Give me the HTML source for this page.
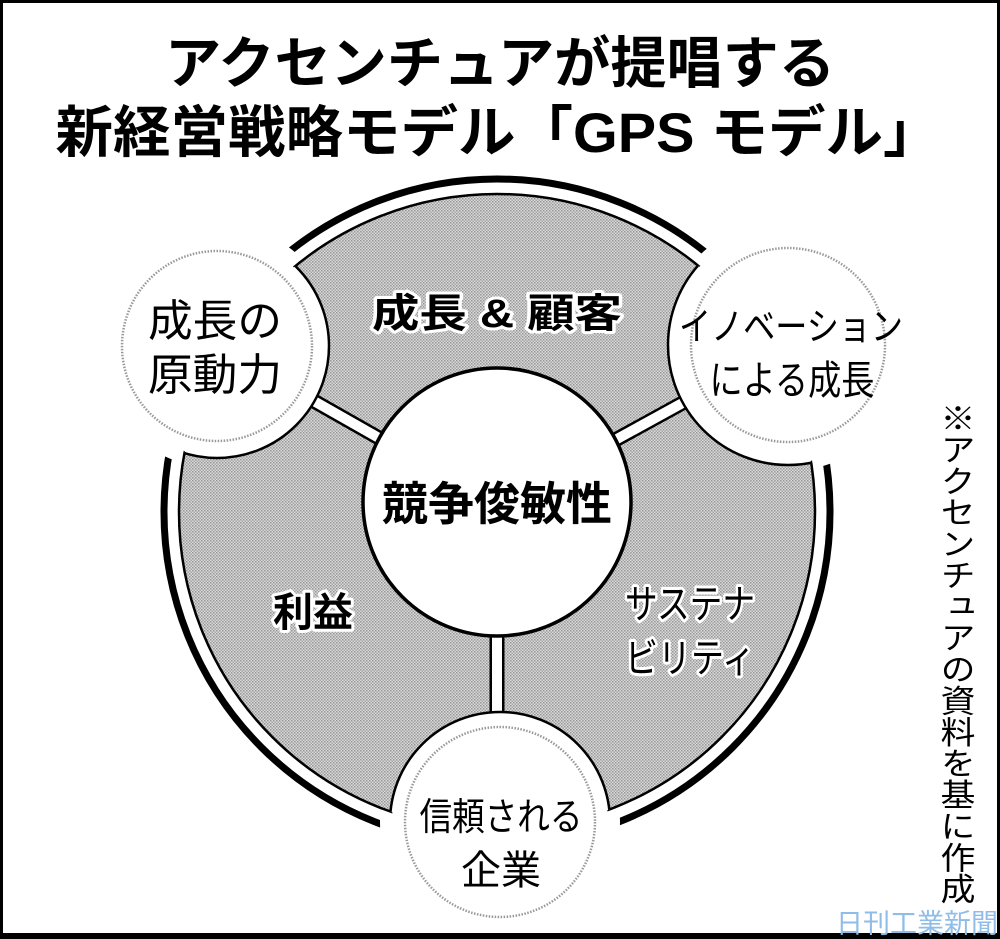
<!DOCTYPE html>
<html><head><meta charset="utf-8"><style>
html,body{margin:0;padding:0;background:#fff}
svg{display:block}
text{font-family:"Liberation Sans","Noto Sans CJK JP",sans-serif}
</style></head><body>
<svg width="1000" height="939" viewBox="0 0 1000 939" xmlns="http://www.w3.org/2000/svg">
<defs>
<pattern id="dots" width="3" height="3" patternUnits="userSpaceOnUse">
<rect width="3" height="3" fill="#dadada"/><rect width="1.5" height="1.5" fill="#959595"/><rect x="1.5" y="1.5" width="1.5" height="1.5" fill="#a5a5a5"/>
</pattern>
<clipPath id="disk"><circle cx="497" cy="512" r="318"/></clipPath>
</defs>
<rect x="0" y="0" width="1000" height="939" fill="#fff"/>
<text x="500" y="83" font-size="56" font-weight="bold" text-anchor="middle" textLength="670" lengthAdjust="spacingAndGlyphs">アクセンチュアが提唱する</text>
<text x="498" y="152" font-size="56" font-weight="bold" text-anchor="middle" textLength="885" lengthAdjust="spacingAndGlyphs">新経営戦略モデル「GPS モデル」</text>

<circle cx="497" cy="512" r="333" fill="none" stroke="#000" stroke-width="7"/>
<circle cx="217" cy="346" r="122" fill="#fff"/>
<circle cx="788" cy="345" r="126" fill="#fff"/>
<circle cx="500" cy="822" r="120" fill="#fff"/>
<circle cx="497" cy="512" r="318" fill="url(#dots)" stroke="#000" stroke-width="2.5"/>
<g clip-path="url(#disk)">
<line x1="497" y1="505" x2="217" y2="346" stroke="#000" stroke-width="15"/>
<line x1="497" y1="505" x2="788" y2="345" stroke="#000" stroke-width="15"/>
<line x1="497" y1="505" x2="497" y2="822" stroke="#000" stroke-width="15"/>
<line x1="497" y1="505" x2="217" y2="346" stroke="#fff" stroke-width="10"/>
<line x1="497" y1="505" x2="788" y2="345" stroke="#fff" stroke-width="10"/>
<line x1="497" y1="505" x2="497" y2="822" stroke="#fff" stroke-width="10"/>
<circle cx="217" cy="346" r="112" fill="#fff" stroke="#000" stroke-width="2.5"/>
<circle cx="788" cy="345" r="120" fill="#fff" stroke="#000" stroke-width="2.5"/>
<circle cx="500" cy="822" r="110" fill="#fff" stroke="#000" stroke-width="2.5"/>
</g>
<circle cx="217" cy="346" r="110" fill="#fff"/>
<circle cx="788" cy="345" r="118" fill="#fff"/>
<circle cx="500" cy="822" r="108" fill="#fff"/>
<circle cx="217" cy="346" r="95" fill="none" stroke="#999" stroke-width="2.5" stroke-dasharray="1.5 1.5"/>
<circle cx="788" cy="345" r="97" fill="none" stroke="#999" stroke-width="2.5" stroke-dasharray="1.5 1.5"/>
<circle cx="500" cy="822" r="95" fill="none" stroke="#999" stroke-width="2.5" stroke-dasharray="1.5 1.5"/>
<circle cx="497" cy="502" r="134" fill="#fff" stroke="#000" stroke-width="3.5"/>

<g font-size="40" text-anchor="middle" stroke="#fff" stroke-width="6" paint-order="stroke" stroke-linejoin="round">
<text x="497" y="327" font-weight="bold" textLength="250" lengthAdjust="spacingAndGlyphs">成長 &amp; 顧客</text>
<text x="313" y="626" font-weight="bold">利益</text>
<text x="690" y="618" textLength="130" lengthAdjust="spacingAndGlyphs">サステナ</text>
<text x="690" y="672" textLength="130" lengthAdjust="spacingAndGlyphs">ビリティ</text>
</g>
<g font-size="40" text-anchor="middle">
<text x="497" y="520" font-size="46" font-weight="bold" textLength="230" lengthAdjust="spacingAndGlyphs">競争俊敏性</text>
<text x="215" y="336" font-size="44" textLength="134" lengthAdjust="spacingAndGlyphs">成長の</text>
<text x="215" y="390" font-size="44" textLength="134" lengthAdjust="spacingAndGlyphs">原動力</text>
<text x="791" y="340" font-size="38" textLength="224" lengthAdjust="spacingAndGlyphs">イノベーション</text>
<text x="792" y="394" font-size="40" textLength="165" lengthAdjust="spacingAndGlyphs">による成長</text>
<text x="501" y="830" font-size="38" textLength="163" lengthAdjust="spacingAndGlyphs">信頼される</text>
<text x="501" y="884" font-size="40">企業</text>
</g>
<text x="955" y="402" font-size="35" style="writing-mode:vertical-rl" textLength="502" lengthAdjust="spacingAndGlyphs">※アクセンチュアの資料を基に作成</text>
<rect x="1.5" y="1.5" width="997" height="934" fill="none" stroke="#000" stroke-width="3"/>
<rect x="0" y="933" width="1000" height="6" fill="#000"/>
<text x="998" y="933" font-size="27" fill="#8fbde8" text-anchor="end">日刊工業新聞</text>
</svg>
</body></html>
